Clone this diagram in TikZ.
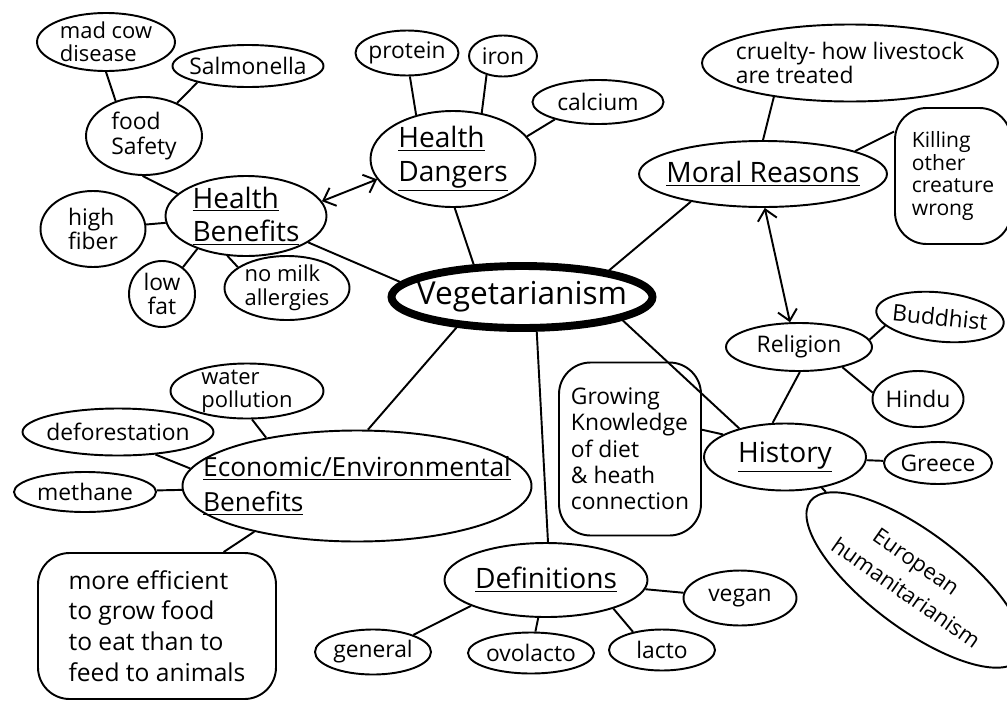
\documentclass[tikz,border=0pt]{standalone}
\usepackage{fontspec}
\setmainfont{Open Sans}
\usetikzlibrary{shapes.geometric,arrows.meta}
\newcommand{\Bub}[7][]{%
  \node[bub,minimum width=#4*0.02cm,minimum height=#5*0.02cm,#1] (#2) at (#3) {};
  \node[txt,#6] (#2-t) at (#2) {#7};}
\tikzset{
  bub/.style={draw, ellipse, line width=1.1pt, inner sep=0pt},
  blob/.style={rectangle, rounded corners=18pt},
  txt/.style={align=center, inner sep=0pt, font=\fontsize{13}{14}\selectfont},
  head/.style={font=\fontsize{16}{19}\selectfont},
  link/.style={line width=1.1pt},
  dbl/.style={line width=1.1pt, arrows={Straight Barb[length=6pt,width=11pt]-Straight Barb[length=6pt,width=11pt]}},
}
\begin{document}
\begin{tikzpicture}[x=0.02cm,y=-0.02cm]
\useasboundingbox (0,0) rectangle (1007,700);
\Bub[line width=4.5pt]{veg}{522,297}{261}{62}{font=\fontsize{18}{20}\selectfont}{Vegetarianism}
\Bub{hd}{453,159}{165}{96}{head,align=left}{\underline{Health}\\\underline{Dangers}}
\Bub{prot}{407,53}{103}{45}{}{protein}
\Bub{iron}{503,56}{68}{41}{}{iron}
\Bub{calc}{598,102}{131}{44}{}{calcium}
\Bub{hb}{246,216}{161}{80}{head,align=left}{\underline{Health}\\\underline{Benefits}}
\Bub{fs}{144,136}{116}{78}{align=left}{food\\Safety}
\Bub{mad}{106,42}{138}{58}{align=left,font=\fontsize{12.5}{13}\selectfont}{mad cow\\disease}
\Bub{salm}{248,66}{151}{42}{}{Salmonella}
\Bub{fib}{93,229}{105}{76}{align=left}{high\\fiber}
\Bub{low}{162,294}{66}{66}{}{low\\fat}
\Bub{milk}{287,288}{125}{64}{align=left,font=\fontsize{12.5}{13.5}\selectfont}{no milk\\allergies}
\Bub{mor}{763,174}{248}{66}{head}{\underline{Moral Reasons}}
\Bub{cru}{850,63}{296}{77}{align=left}{cruelty- how livestock\\ are treated}
\Bub[blob]{kill}{953,176}{116}{136}{align=left,font=\fontsize{12}{13}\selectfont}{Killing\\other\\creature\\wrong}
\Bub{rel}{799,347}{146}{48}{}{Religion}
\Bub[rotate=-6]{budd}{940,317}{128}{49}{rotate=-6}{Buddhist}
\Bub{hindu}{918,399}{91}{56}{}{Hindu}
\Bub{hist}{785,457}{162}{67}{head}{\underline{History}}
\Bub{gre}{938,463}{108}{42}{}{Greece}
\Bub[rotate=-37]{eur}{915,580}{262}{96}{rotate=-35,align=left,font=\fontsize{12.5}{18}\selectfont}{\hspace{1.3em}European\\humanitarianism}
\Bub[blob]{grow}{630,449}{142}{173}{align=left,font=\fontsize{13}{15}\selectfont}{Growing\\Knowledge\\of diet\\\& heath\\connection}
\Bub{def}{546,580}{203}{74}{head}{\underline{Definitions}}
\Bub{vegan}{740,598}{113}{55}{}{vegan}
\Bub{gen}{373,652}{116}{45}{}{general}
\Bub{ovo}{531,653}{126}{41}{}{ovolacto}
\Bub{lac}{662,650}{106}{41}{}{lacto}
\Bub{econ}{357,486}{349}{111}{font=\fontsize{15}{20}\selectfont,align=left}{\underline{Economic/Environmental}\\\underline{Benefits}}
\Bub{wat}{247,391}{153}{55}{align=left,font=\fontsize{12.5}{13}\selectfont}{water\\pollution}
\Bub{forest}{118,432}{191}{47}{}{deforestation}
\Bub{meth}{85,492}{142}{40}{}{methane}
\Bub[blob]{eff}{157,626}{238}{146}{align=left,font=\fontsize{14}{17.5}\selectfont}{more efficient\\to grow food\\to eat than to\\feed to animals}
\draw[link] (veg.146) -- (hd.-88);
\draw[link] (veg.173) -- (hb.-23);
\draw[link] (veg.17) -- (mor.-159);
\draw[link] (veg.-13) -- (hist.148);
\draw[link] (veg.-67) -- (def.87);
\draw[link] (veg.-155) -- (econ.79);
\draw[link] (hd.130) -- (prot.-83);
\draw[link] (hd.58) -- (iron.-131);
\draw[link] (hd.17) -- (calc.-158);
\draw[dbl] (hb.11) -- (hd.-165);
\draw[link] (hb.162) -- (fs.-92);
\draw[link] (hb) -- (fib);
\draw[link] (hb.-146) -- (low.52);
\draw[link] (hb.-115) -- (milk.157);
\draw[link] (fs.129) -- (mad.-90);
\draw[link] (fs.45) -- (salm.-162);
\draw[link] (mor.90) -- (cru.-156);
\draw[link] (mor.14) -- (kill.143);
\draw[dbl] (mor.-87) -- (rel.110);
\draw[link] (rel.6) -- (budd.-165);
\draw[link] (rel.-25) -- (hindu.172);
\draw[link] (rel.-88) -- (hist.110);
\draw[link] (hist) -- (gre);
\draw[link] (hist.-40) -- (eur);
\draw[link] (grow.15) -- (hist.160);
\draw[link] (def) -- (vegan);
\draw[link] (def.-161) -- (gen.23);
\draw[link] (def) -- (ovo);
\draw[link] (def.-23) -- (lac.148);
\draw[link] (econ.152) -- (wat.-80);
\draw[link] (econ.174) -- (forest.-31);
\draw[link] (econ) -- (meth);
\draw[link] (econ.-156) -- (eff.48);
\end{tikzpicture}
\end{document}
